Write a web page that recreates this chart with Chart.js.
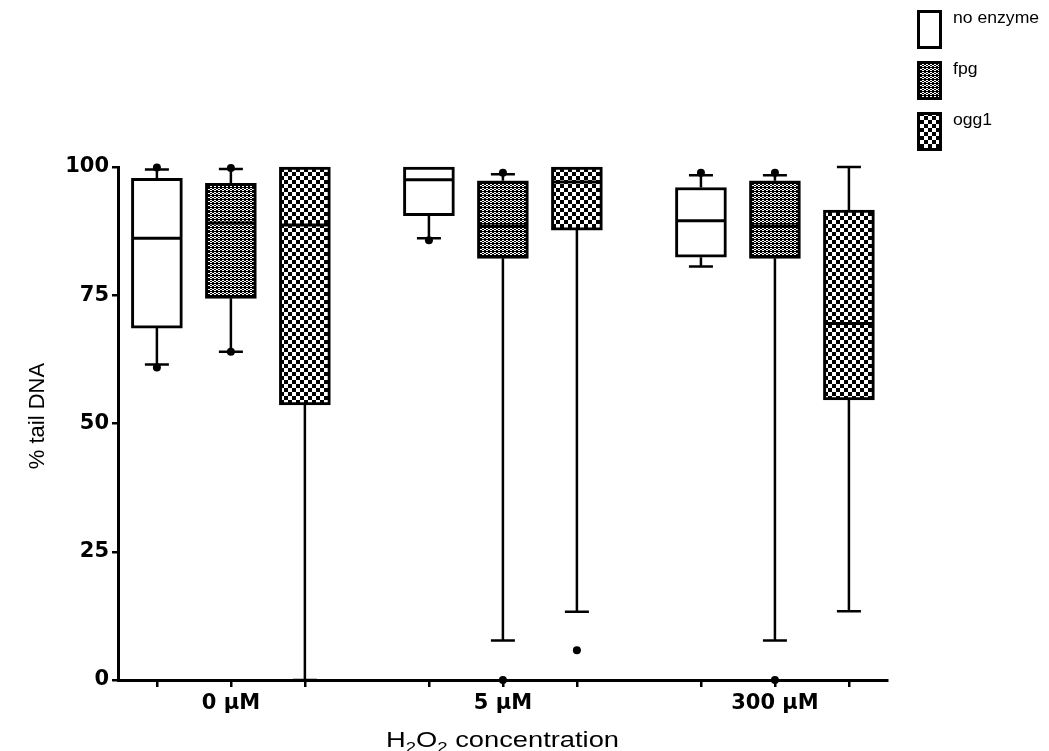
<!DOCTYPE html>
<html>
<head>
<meta charset="utf-8">
<script src="https://cdn.jsdelivr.net/npm/chart.js@4.4.1/dist/chart.umd.min.js"></script>
<style>
  body { margin: 0; background: #fff; }
</style>
</head>
<body>
<canvas id="tailChart" width="1049" height="751"></canvas>
<script>
const groups = ['0 μM', '5 μM', '300 μM'];
const seriesNames = ['no enzyme', 'fpg', 'ogg1'];
// per group: [low whisker, q1, median, q3, high whisker]
const noEnzymeBoxes = [[61.5, 68.6, 86.1, 97.8, 99.5], [86.1, 90.5, 97.5, 100, 100], [80.6, 82.4, 89.5, 96.0, 98.4]];
const fpgBoxes = [[64.0, 74.4, 89.1, 96.8, 99.6], [7.7, 82.2, 88.5, 97.3, 98.6], [7.7, 82.2, 88.5, 97.3, 98.4]];
const ogg1Boxes = [[0, 53.6, 88.7, 100, 100], [13.3, 87.7, 97.1, 100, 100], [13.4, 54.6, 69.5, 91.6, 100]];
// points outside the whiskers, per group
const noEnzymeOutliers = [[60.9, 99.9], [85.7], [98.9]];
const fpgOutliers = [[64.0, 99.8], [0, 98.9], [0, 98.9]];
const ogg1Outliers = [[], [5.8], []];
const yTicks = [0, 25, 50, 75, 100];

const FONT = "'Liberation Sans', Arial, sans-serif";

function makePattern(rows, cell) {
  const c = document.createElement('canvas');
  c.width = rows[0].length * cell;
  c.height = rows.length * cell;
  const g = c.getContext('2d');
  g.fillStyle = '#fff';
  g.fillRect(0, 0, c.width, c.height);
  g.fillStyle = '#000';
  rows.forEach((r, y) => {
    [...r].forEach((ch, x) => {
      if (ch === '#') g.fillRect(x * cell, y * cell, cell, cell);
    });
  });
  return g.createPattern(c, 'repeat');
}

const fpgFill = makePattern(['##..', '..##', '##..', '####'], 1);
const ogg1Fill = makePattern(['#.', '.#'], 4);

const boxSets = [noEnzymeBoxes, fpgBoxes, ogg1Boxes];
const outlierSets = [noEnzymeOutliers, fpgOutliers, ogg1Outliers];
const fills = ['#ffffff', fpgFill, ogg1Fill];

const slot = 0.272; // spacing of boxes inside a group, in x units
const xOf = (g, s) => g + (s - 1) * slot;

const boxPlotLines = {
  id: 'boxPlotLines',
  beforeDatasetsDraw(chart) {
    const {ctx, scales: {x, y}} = chart;
    ctx.save();
    ctx.strokeStyle = '#000';
    ctx.lineWidth = 2.5;
    boxSets.forEach((boxes, s) => {
      boxes.forEach((b, g) => {
        const cx = x.getPixelForValue(xOf(g, s));
        const ends = [[b[0], b[1]], [b[4], b[3]]];
        ends.forEach(([tip, edge]) => {
          if (tip === edge) return;
          const yt = y.getPixelForValue(tip);
          ctx.beginPath();
          ctx.moveTo(cx, y.getPixelForValue(edge));
          ctx.lineTo(cx, yt);
          ctx.moveTo(cx - 12, yt);
          ctx.lineTo(cx + 12, yt);
          ctx.stroke();
        });
      });
    });
    ctx.restore();
  },
  afterDatasetsDraw(chart) {
    const {ctx, scales: {x, y}} = chart;
    ctx.save();
    ctx.strokeStyle = '#000';
    ctx.lineWidth = 3;
    boxSets.forEach((boxes, s) => {
      boxes.forEach((b, g) => {
        const cx = x.getPixelForValue(xOf(g, s));
        const ym = y.getPixelForValue(b[2]);
        ctx.beginPath();
        ctx.moveTo(cx - 24, ym);
        ctx.lineTo(cx + 24, ym);
        ctx.stroke();
      });
    });
    ctx.restore();
  }
};

const titlesAndLegend = {
  id: 'titlesAndLegend',
  afterDraw(chart) {
    const {ctx, chartArea} = chart;
    ctx.save();
    ctx.fillStyle = '#000';

    // y title
    ctx.save();
    ctx.translate(38, 416);
    ctx.rotate(-Math.PI / 2);
    ctx.textAlign = 'center';
    ctx.textBaseline = 'middle';
    ctx.font = '22px ' + FONT;
    ctx.fillText('% tail DNA', 0, 0);
    ctx.restore();

    // x title with subscripts
    const parts = [['H', 0], ['2', 1], ['O', 0], ['2', 1], [' concentration', 0]];
    const fontOf = sub => (sub ? '15px ' : '22px ') + FONT;
    let total = 0;
    parts.forEach(([t, sub]) => { ctx.font = fontOf(sub); total += ctx.measureText(t).width; });
    ctx.save();
    ctx.translate((chartArea.left + chartArea.right) / 2, 0);
    ctx.scale(1.24, 1);
    let px = -total / 2;
    ctx.textBaseline = 'alphabetic';
    ctx.textAlign = 'left';
    parts.forEach(([t, sub]) => {
      ctx.font = fontOf(sub);
      ctx.fillText(t, px, sub ? 752 : 747);
      px += ctx.measureText(t).width;
    });
    ctx.restore();

    // legend
    seriesNames.forEach((name, s) => {
      const top = 10 + s * 51;
      ctx.fillStyle = fills[s];
      ctx.fillRect(917, top, 25, 39);
      ctx.strokeStyle = '#000';
      ctx.lineWidth = 3;
      ctx.strokeRect(918.5, top + 1.5, 22, 36);
      ctx.fillStyle = '#000';
      ctx.save();
      ctx.translate(953, top + 9);
      ctx.scale(1.1, 1);
      ctx.font = '16px ' + FONT;
      ctx.textBaseline = 'middle';
      ctx.fillText(name, 0, 0);
      ctx.restore();
    });
    ctx.restore();
  }
};

const barDatasets = boxSets.map((boxes, s) => ({
  type: 'bar',
  label: seriesNames[s],
  data: boxes.map((b, g) => ({x: xOf(g, s), y: [b[1], b[3]]})),
  backgroundColor: fills[s],
  borderColor: '#000',
  borderWidth: 3,
  borderSkipped: false,
  barThickness: 51,
  grouped: false,
  clip: false,
  order: 2
}));

const outlierDataset = {
  type: 'scatter',
  label: 'outliers',
  data: outlierSets.flatMap((o, s) => o.flatMap((vals, g) => vals.map(v => ({x: xOf(g, s), y: v})))),
  pointRadius: 4,
  backgroundColor: '#000',
  borderWidth: 0,
  clip: false,
  order: 1
};

// DejaVu's wider bold glyphs match the broad labels of the original
const tickFont = {family: "'DejaVu Sans', sans-serif", size: 21, weight: 'bold'};

new Chart(document.getElementById('tailChart'), {
  data: {datasets: [...barDatasets, outlierDataset]},
  options: {
    responsive: false,
    animation: false,
    devicePixelRatio: 1,
    events: [],
    layout: {padding: {top: 167, right: 162, bottom: 0, left: 0}},
    plugins: {
      legend: {display: false},
      tooltip: {enabled: false}
    },
    scales: {
      x: {
        type: 'linear',
        offset: false,
        min: -0.415,
        max: 2.412,
        afterBuildTicks(scale) {
          scale.ticks = groups.flatMap((_, g) => seriesNames.map((__, s) => ({value: xOf(g, s)})));
        },
        afterFit(scale) { scale.height = 71; },
        ticks: {
          autoSkip: false,
          maxRotation: 0,
          padding: 4,
          color: '#000',
          font: tickFont,
          callback: (v) => {
            const g = Math.round(v);
            return Math.abs(v - g) < 1e-6 ? groups[g] : '';
          }
        },
        grid: {offset: false, drawOnChartArea: false, drawTicks: true, tickLength: 7, color: '#000', lineWidth: 2.5},
        border: {display: true, color: '#000', width: 3}
      },
      y: {
        min: 0,
        max: 100,
        afterBuildTicks(scale) { scale.ticks = yTicks.map(v => ({value: v})); },
        afterFit(scale) { scale.width = 118; },
        ticks: {color: '#000', font: tickFont, padding: 3},
        grid: {drawOnChartArea: false, drawTicks: true, tickLength: 6, color: '#000', lineWidth: 2.5},
        border: {display: true, color: '#000', width: 3}
      }
    }
  },
  plugins: [boxPlotLines, titlesAndLegend]
});
</script>
</body>
</html>
